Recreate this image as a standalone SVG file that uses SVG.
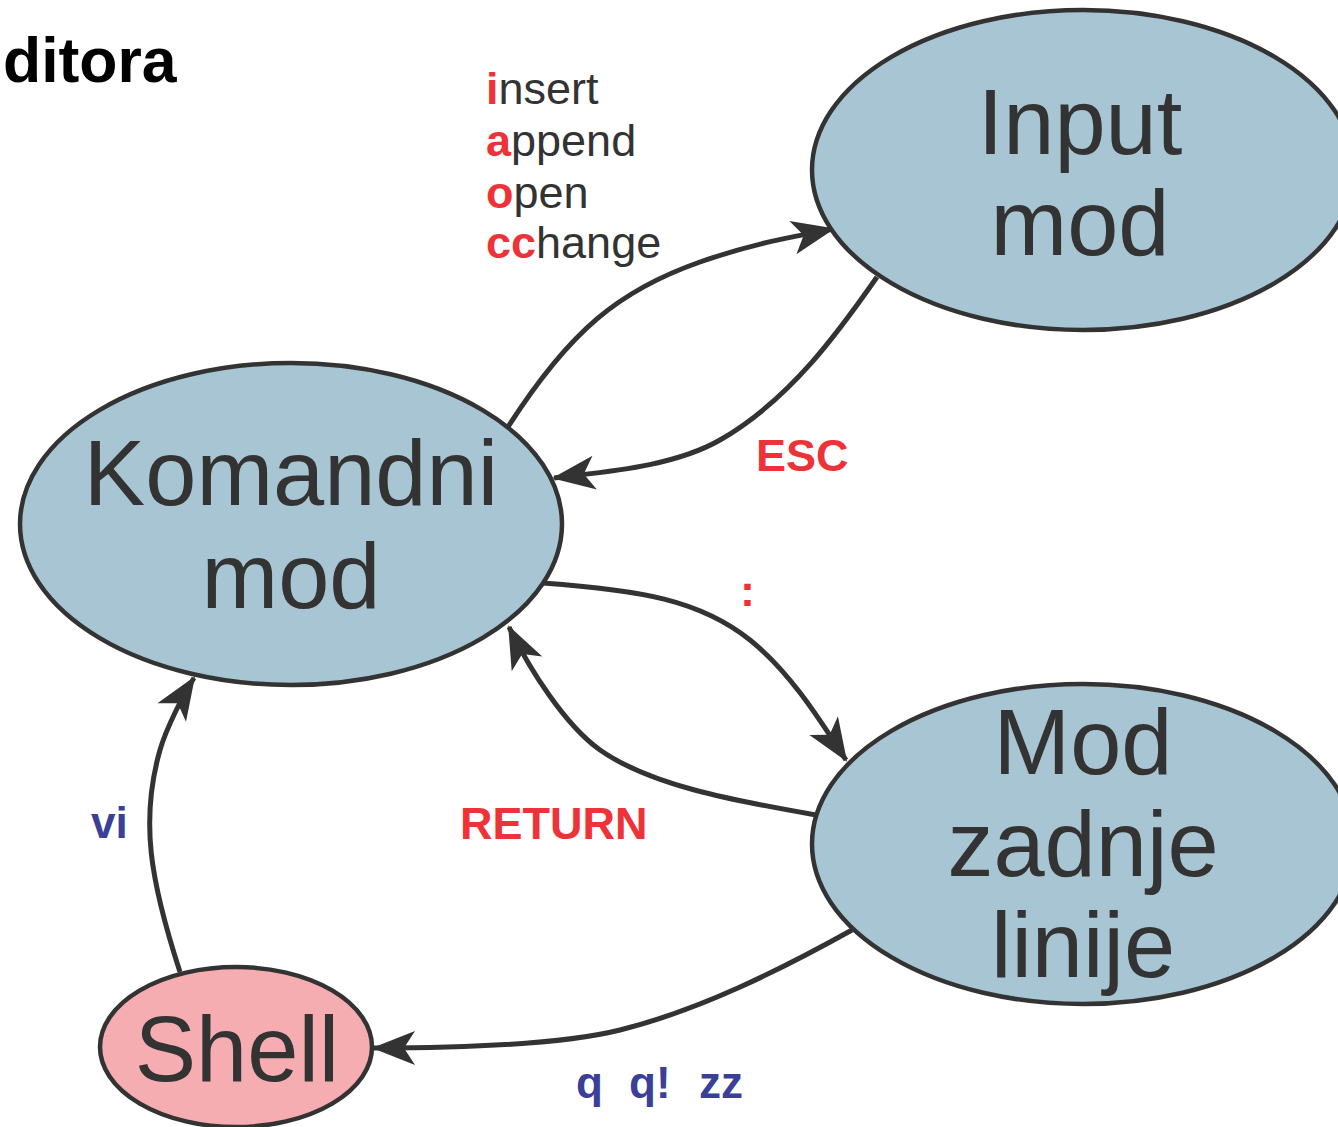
<svg xmlns="http://www.w3.org/2000/svg" width="1338" height="1127" viewBox="0 0 1338 1127">
<style>
.node{fill:#a8c5d3;stroke:#333;stroke-width:4.5}
.shell{fill:#f5adb2;stroke:#333;stroke-width:4.5}
.big{font-family:"Liberation Sans",Arial,sans-serif;font-size:92px;fill:#333;text-anchor:middle}
.lbl{font-family:"Liberation Sans",Arial,sans-serif;font-size:45px;fill:#333}
.r{fill:#ee3338;font-weight:bold}
.red{font-family:"Liberation Sans",Arial,sans-serif;font-size:45px;fill:#ee3338;font-weight:bold}
.blue{font-family:"Liberation Sans",Arial,sans-serif;font-size:44px;fill:#3b3f98;font-weight:bold}
.edge{fill:none;stroke:#333;stroke-width:5;marker-end:url(#arr)}
</style>
<defs>
<marker id="arr" viewBox="-46 -20 50 40" refX="0" refY="0" markerWidth="50" markerHeight="40" markerUnits="userSpaceOnUse" orient="auto">
<path d="M2,0 L-41,-17 L-30,0 L-41,17 Z" fill="#333"/>
</marker>
</defs>
<rect width="1338" height="1127" fill="#fff"/>
<text x="3" y="82" font-family="Liberation Sans,Arial,sans-serif" font-size="62.5" font-weight="bold" fill="#000">ditora</text>
<g id="connectors">
<path class="edge" d="M508,427 C570,330 620,290 700,262 C760,241 800,236 833,229"/>
<path class="edge" d="M877,277 C840,330 790,400 720,440 C671,468 600,472 554,478"/>
<path class="edge" d="M543,583 C640,590 700,600 750,640 C790,672 820,720 846,760"/>
<path class="edge" d="M816,815 C730,800 650,785 600,750 C565,725 530,670 509,627"/>
<path class="edge" d="M180,972 C150,880 140,820 160,750 C166,729 183,695 194,678"/>
<path class="edge" d="M852,930 C780,970 700,1010 620,1030 C560,1045 450,1048 374,1048"/>
</g>
<g id="labels">
<text class="lbl" x="486" y="104"><tspan class="r">i</tspan>nsert</text>
<text class="lbl" x="486" y="156"><tspan class="r">a</tspan>ppend</text>
<text class="lbl" x="486" y="208"><tspan class="r">o</tspan>pen</text>
<text class="lbl" x="486" y="258"><tspan class="r">cc</tspan>hange</text>
<text class="red" x="756" y="471">ESC</text>
<text class="red" x="740" y="606">:</text>
<text class="red" x="460" y="839">RETURN</text>
<text class="blue" x="91" y="838">vi</text>
<text class="blue" y="1098" font-size="45"><tspan x="576">q</tspan><tspan x="629">q!</tspan><tspan x="699">zz</tspan></text>
</g>
<g id="input">
<ellipse class="node" cx="1083" cy="170" rx="271" ry="160"/>
<text class="big" x="1080" y="154">Input</text>
<text class="big" x="1080" y="255">mod</text>
</g>
<g id="komandni">
<ellipse class="node" cx="291" cy="524" rx="271" ry="161"/>
<text class="big" x="291" y="505">Komandni</text>
<text class="big" x="291" y="608">mod</text>
</g>
<g id="zadnje">
<ellipse class="node" cx="1083" cy="844" rx="271" ry="160"/>
<text class="big" x="1083" y="774">Mod</text>
<text class="big" x="1083" y="876">zadnje</text>
<text class="big" x="1083" y="977">linije</text>
</g>
<g id="shell">
<ellipse class="shell" cx="236" cy="1047" rx="136" ry="80"/>
<text class="big" x="237" y="1081">Shell</text>
</g>
</svg>
